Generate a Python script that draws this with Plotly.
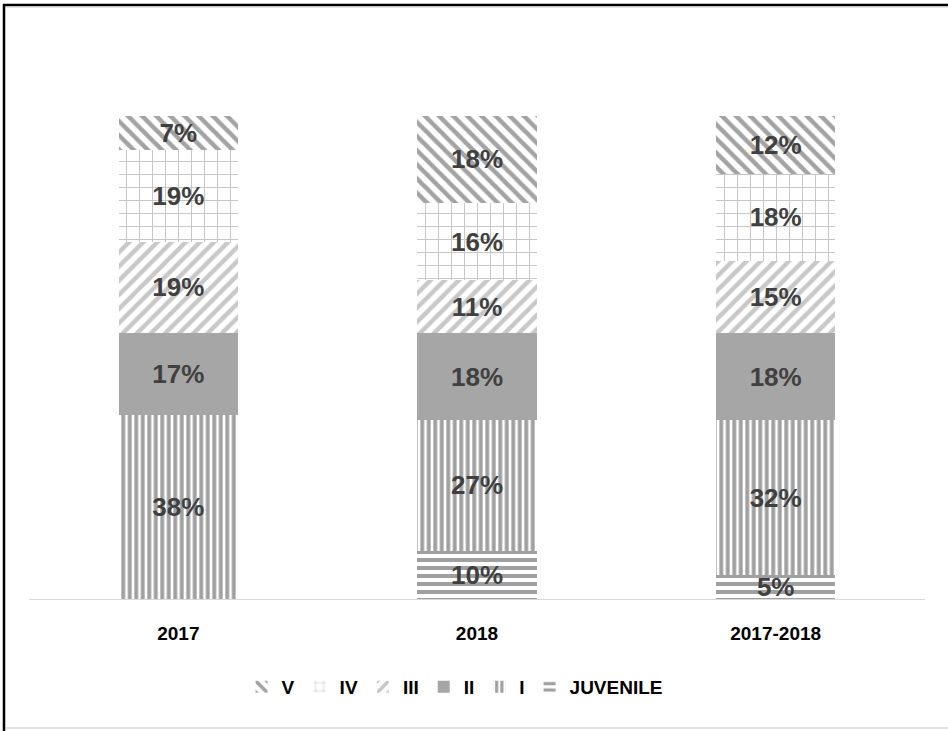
import plotly.graph_objects as go

categories = ["2017", "2018", "2017-2018"]
series_names = ["JUVENILE", "I", "II", "III", "IV", "V"]
juvenile = [0, 10, 5]
stage_i = [38, 27, 32]
stage_ii = [17, 18, 18]
stage_iii = [19, 11, 15]
stage_iv = [19, 16, 18]
stage_v = [7, 18, 12]

values = [juvenile, stage_i, stage_ii, stage_iii, stage_iv, stage_v]
patterns = [
    dict(shape="-", fgcolor="#a0a0a0", bgcolor="white", size=8, solidity=0.5, fgopacity=1),
    dict(shape="|", fgcolor="#a0a0a0", bgcolor="white", size=6.5, solidity=0.6, fgopacity=1),
    dict(shape="", fgcolor="#a6a6a6", bgcolor="#a6a6a6"),
    dict(shape="/", fgcolor="#c8c8c8", bgcolor="white", size=10, solidity=0.45, fgopacity=1),
    dict(shape="+", fgcolor="#c4c4c4", bgcolor="white", size=13, solidity=0.14, fgopacity=1),
    dict(shape="\\", fgcolor="#a3a3a3", bgcolor="white", size=10, solidity=0.45, fgopacity=1),
]

fig = go.Figure()
for name, vals, pat in zip(series_names, values, patterns):
    colr = pat["fgcolor"] if pat["shape"] else pat["bgcolor"]
    fig.add_trace(go.Bar(
        x=categories, y=vals, name=name,
        text=[f"{v}%" if v else "" for v in vals],
        textposition="inside", insidetextanchor="middle",
        constraintext="none", textangle=0,
        textfont=dict(family="Arial, Liberation Sans", size=26, color="#404040", weight="bold"),
        marker=dict(color=colr, pattern=pat, line=dict(width=0)),
        width=0.4, hoverinfo="skip",
    ))

W, H = 948, 731
L, R, T, B = 29, 23, 116, 132
pw, ph = W - L - R, H - T - B
def px(x):
    return (x - L) / pw
def py(y):
    return (H - B - y) / ph

shapes = [
    dict(type="line", xref="paper", yref="paper", x0=px(3), x1=px(948), y0=py(5), y1=py(5),
         line=dict(color="black", width=2.5)),
    dict(type="line", xref="paper", yref="paper", x0=px(4), x1=px(4), y0=py(4), y1=py(731),
         line=dict(color="black", width=2.5)),
    dict(type="line", xref="paper", yref="paper", x0=px(6), x1=px(948), y0=py(7.5), y1=py(7.5),
         line=dict(color="#e6e6e6", width=1)),
    dict(type="line", xref="paper", yref="paper", x0=px(6), x1=px(948), y0=py(728), y1=py(728),
         line=dict(color="#d9d9d9", width=1.5)),
]

fig.update_layout(
    width=W, height=H,
    margin=dict(l=L, r=R, t=T, b=B),
    barmode="stack",
    paper_bgcolor="white", plot_bgcolor="white",
    font=dict(family="Arial, Liberation Sans", size=19, color="black"),
    xaxis=dict(showline=True, linecolor="#d9d9d9", linewidth=1, ticks="",
               ticklabelstandoff=17,
               tickfont=dict(size=19, color="black", weight="bold"), showgrid=False),
    yaxis=dict(range=[0, 100], visible=False, showgrid=False),
    legend=dict(orientation="h", traceorder="reversed", x=0.475, xanchor="center",
                y=py(687), yanchor="middle",
                font=dict(size=19, color="black", weight="bold"),
                itemwidth=30, itemclick=False, tracegroupgap=0),
    shapes=shapes,
    showlegend=True,
)

fig.write_html("out.html", config={"displayModeBar": False},
               post_script="document.body.style.margin='0';document.body.style.overflow='hidden';")
